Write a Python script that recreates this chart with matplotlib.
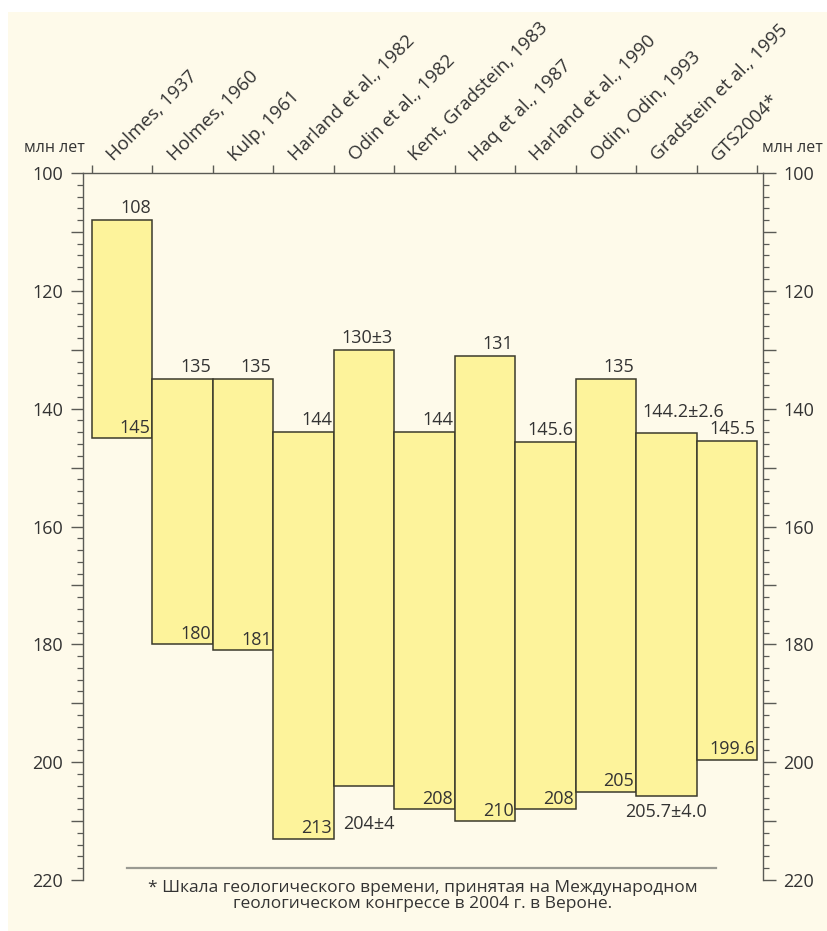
import matplotlib
matplotlib.use("Agg")
import numpy as np
from matplotlib import pyplot as plt
from matplotlib.patches import Rectangle
from matplotlib.lines import Line2D
from matplotlib.ticker import MultipleLocator, FuncFormatter
import matplotlib.transforms as mtransforms

plt.rcParams['font.family'] = ['Open Sans', 'DejaVu Sans']

sources = ['Holmes, 1937', 'Holmes, 1960', 'Kulp, 1961', 'Harland et al., 1982',
           'Odin et al., 1982', 'Kent, Gradstein, 1983', 'Haq et al., 1987',
           'Harland et al., 1990', 'Odin, Odin, 1993', 'Gradstein et al., 1995',
           'GTS2004*']
top_age = [108, 135, 135, 144, 130, 144, 131, 145.6, 135, 144.2, 145.5]
bottom_age = [145, 180, 181, 213, 204, 208, 210, 208, 205, 205.7, 199.6]
top_labels = ['108', '135', '135', '144', '130±3', '144', '131', '145.6', '135',
              '144.2±2.6', '145.5']
bottom_labels = ['145', '180', '181', '213', '204±4', '208', '210', '208', '205',
                 '205.7±4.0', '199.6']

footnote = ('* Шкала геологического времени, принятая на Международном\n'
            'геологическом конгрессе в 2004 г. в Вероне.')

bar_color = '#fdf39b'
edge_color = '#3b3a2c'
bg_color = '#fefaea'
axis_color = '#5a5a55'
text_color = '#333333'

W, H = 828, 931
fig = plt.figure(figsize=(W / 100, H / 100), dpi=100)
fig.patch.set_facecolor('white')
fig.patches.append(Rectangle((8 / W, 0), 1 - 8 / W, 1 - 12 / H,
                             transform=fig.transFigure, facecolor=bg_color,
                             edgecolor='none', zorder=-10))

ax = fig.add_axes([83 / W, 1 - 880 / H, (763 - 83) / W, 707 / H])
ax.set_facecolor('none')

x = np.arange(len(sources))
top = np.array(top_age)
bot = np.array(bottom_age)
ax.bar(x, bot - top, bottom=top, width=1, align='edge', color=bar_color,
       edgecolor=edge_color, linewidth=1.1)

ax.set_xlim(-0.149, 11.099)
ax.set_ylim(220, 100)

# spines / ticks
for s in ['left', 'right', 'top']:
    ax.spines[s].set_color(axis_color)
    ax.spines[s].set_linewidth(1.0)
ax.spines['bottom'].set_visible(False)

ax.xaxis.tick_top()
ax.set_xticks(np.arange(len(sources) + 1))
ax.set_xticklabels([])
ax.tick_params(axis='x', direction='out', length=6, width=1, color=axis_color)

ax.yaxis.set_major_locator(MultipleLocator(10))
ax.yaxis.set_minor_locator(MultipleLocator(2))
ax.yaxis.set_major_formatter(FuncFormatter(lambda v, p: '%d' % v if v % 20 == 0 else ''))
ax.tick_params(axis='y', which='both', left=True, right=True,
               labelleft=True, labelright=True, direction='out',
               color=axis_color, labelcolor=text_color, labelsize=13)
ax.tick_params(axis='y', which='major', length=9, width=1, pad=5.5)
ax.tick_params(axis='y', which='minor', length=4, width=0.9)

# rotated source names
trans_top = mtransforms.blended_transform_factory(ax.transData, ax.transAxes)
for i, name in enumerate(sources):
    off = mtransforms.offset_copy(trans_top, fig=fig, x=0, y=8, units='points')
    ax.text(i + 0.36, 1.0, name, transform=off, rotation=45,
            rotation_mode='anchor', ha='left', va='baseline',
            fontsize=13.5, color=text_color)

# value labels
vsize = 13
for i in range(len(sources)):
    tl = top_labels[i]
    if len(tl) > 6:
        off_up = mtransforms.offset_copy(ax.transData, fig=fig, x=0, y=9, units='points')
        ax.text(i + 0.1, top[i], tl, transform=off_up, ha='left', va='bottom',
                fontsize=vsize, color=text_color)
    else:
        off_up = mtransforms.offset_copy(ax.transData, fig=fig, x=0, y=2, units='points')
        ax.text(i + 0.97, top[i], tl, transform=off_up, ha='right', va='bottom',
                fontsize=vsize, color=text_color)

    bl = bottom_labels[i]
    if '±' in bl:
        if len(bl) > 6:
            off_dn = mtransforms.offset_copy(ax.transData, fig=fig, x=0, y=-5, units='points')
            ax.text(i + 0.5, bot[i], bl, transform=off_dn, ha='center', va='top',
                    fontsize=vsize, color=text_color)
        else:
            off_dn = mtransforms.offset_copy(ax.transData, fig=fig, x=0, y=-21, units='points')
            ax.text(i + 0.15, bot[i], bl, transform=off_dn, ha='left', va='top',
                    fontsize=vsize, color=text_color)
    else:
        off_in = mtransforms.offset_copy(ax.transData, fig=fig, x=0, y=1, units='points')
        ax.text(i + 0.97, bot[i], bl, transform=off_in, ha='right', va='bottom',
                fontsize=vsize, color=text_color)

# unit labels
fig.text(85 / W, 1 - 148 / H, 'млн лет', ha='right', va='center',
         fontsize=11.5, color=text_color)
fig.text(762 / W, 1 - 148 / H, 'млн лет', ha='left', va='center',
         fontsize=11.5, color=text_color)

# footnote
fig.lines.append(Line2D([127 / W, 716 / W], [1 - 868 / H, 1 - 868 / H],
                        transform=fig.transFigure, color='#9a9a92', linewidth=1.6))
fig.text(423 / W, 1 - 896 / H, footnote, ha='center', va='center',
         fontsize=12.5, color=text_color, linespacing=1.05)

fig.savefig('out.png', dpi=100, facecolor=fig.get_facecolor())
